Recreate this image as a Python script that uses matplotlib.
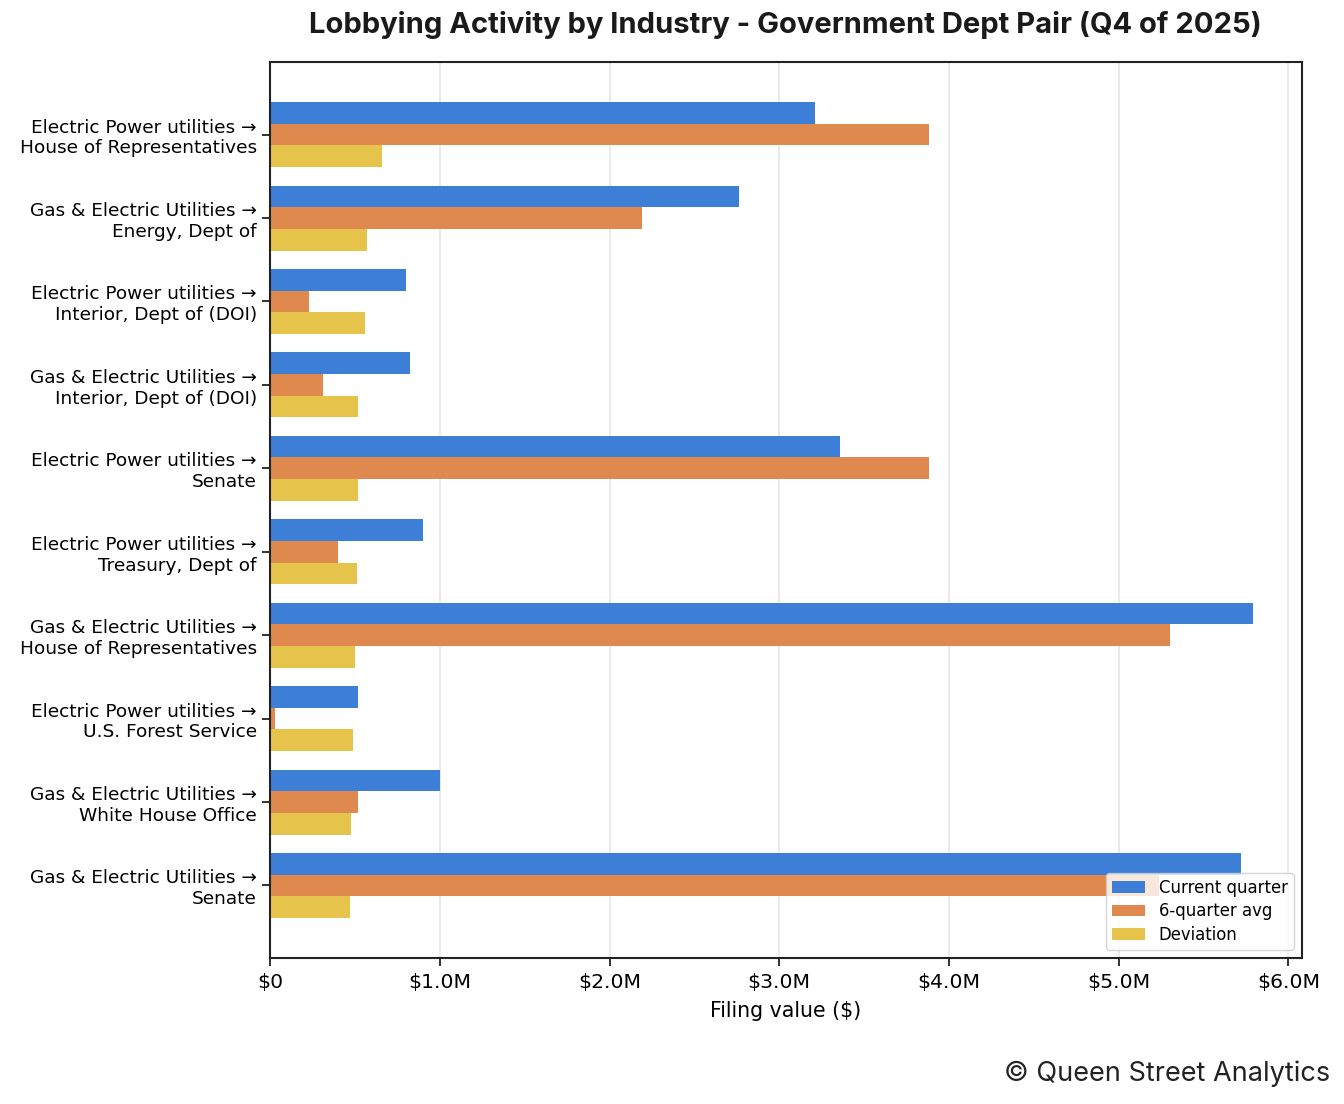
import numpy as np
import matplotlib.pyplot as plt
from matplotlib.ticker import FuncFormatter

plt.rcParams['font.family'] = ['DejaVu Sans']

# Pares industria -> departamento
labels = [
    'Electric Power utilities →\nHouse of Representatives',
    'Gas & Electric Utilities →\nEnergy, Dept of',
    'Electric Power utilities →\nInterior, Dept of (DOI)',
    'Gas & Electric Utilities →\nInterior, Dept of (DOI)',
    'Electric Power utilities →\nSenate',
    'Electric Power utilities →\nTreasury, Dept of',
    'Gas & Electric Utilities →\nHouse of Representatives',
    'Electric Power utilities →\nU.S. Forest Service',
    'Gas & Electric Utilities →\nWhite House Office',
    'Gas & Electric Utilities →\nSenate',
]

# Valores em milhoes de dolares
current_quarter = [3.21, 2.76, 0.80, 0.825, 3.36, 0.90, 5.79, 0.52, 1.00, 5.72]
six_quarter_avg = [3.88, 2.19, 0.23, 0.31, 3.88, 0.40, 5.30, 0.03, 0.52, 5.24]
deviation = [0.66, 0.57, 0.56, 0.52, 0.52, 0.51, 0.50, 0.49, 0.48, 0.47]

fig = plt.figure(figsize=(13.44, 11.04), dpi=100)
ax = fig.add_axes([0.2009, 0.1322, 0.7679, 0.8116])

y = np.arange(len(labels))
h = 0.26
ax.barh(y - h, np.array(current_quarter) * 1e6, height=h, color='#3d7fd6', label='Current quarter', zorder=2)
ax.barh(y, np.array(six_quarter_avg) * 1e6, height=h, color='#e0894f', label='6-quarter avg', zorder=2)
ax.barh(y + h, np.array(deviation) * 1e6, height=h, color='#e6c44b', label='Deviation', zorder=2)

ax.set_yticks(y)
ax.set_yticklabels(labels, fontsize=13.3)
ax.set_ylim(len(labels) - 1 + 0.87, -0.87)

def money(v, pos):
    if v == 0:
        return '$0'
    return f'${v / 1e6:.1f}M'

ax.xaxis.set_major_formatter(FuncFormatter(money))
ax.set_xticks(np.arange(0, 6.01e6, 1e6))
ax.set_xlim(0, 6.08e6)
ax.tick_params(axis='both', length=6, width=1.3, color='#222222')
ax.tick_params(axis='x', labelsize=14.7, pad=5)
ax.set_xlabel('Filing value ($)', fontsize=14.8, labelpad=6.5)
ax.grid(True, axis='x', color='#e6e6e6', linewidth=1.2, zorder=0)
ax.set_axisbelow(True)
for s in ax.spines.values():
    s.set_color('#222222')
    s.set_linewidth(1.5)

ax.legend(loc='lower right', fontsize=11.9, framealpha=0.8, borderpad=0.38, labelspacing=0.32)

fig.suptitle('Lobbying Activity by Industry - Government Dept Pair (Q4 of 2025)',
             x=0.584, y=0.99, fontsize=21, fontweight='bold', family=['Inter', 'DejaVu Sans'], color='#1a1a1a')
fig.text(0.9896, 0.015, '© Queen Street Analytics', ha='right', va='bottom',
         fontsize=19.5, family=['Inter', 'DejaVu Sans'], color='#222222')

fig.savefig('out.png', dpi=100)
